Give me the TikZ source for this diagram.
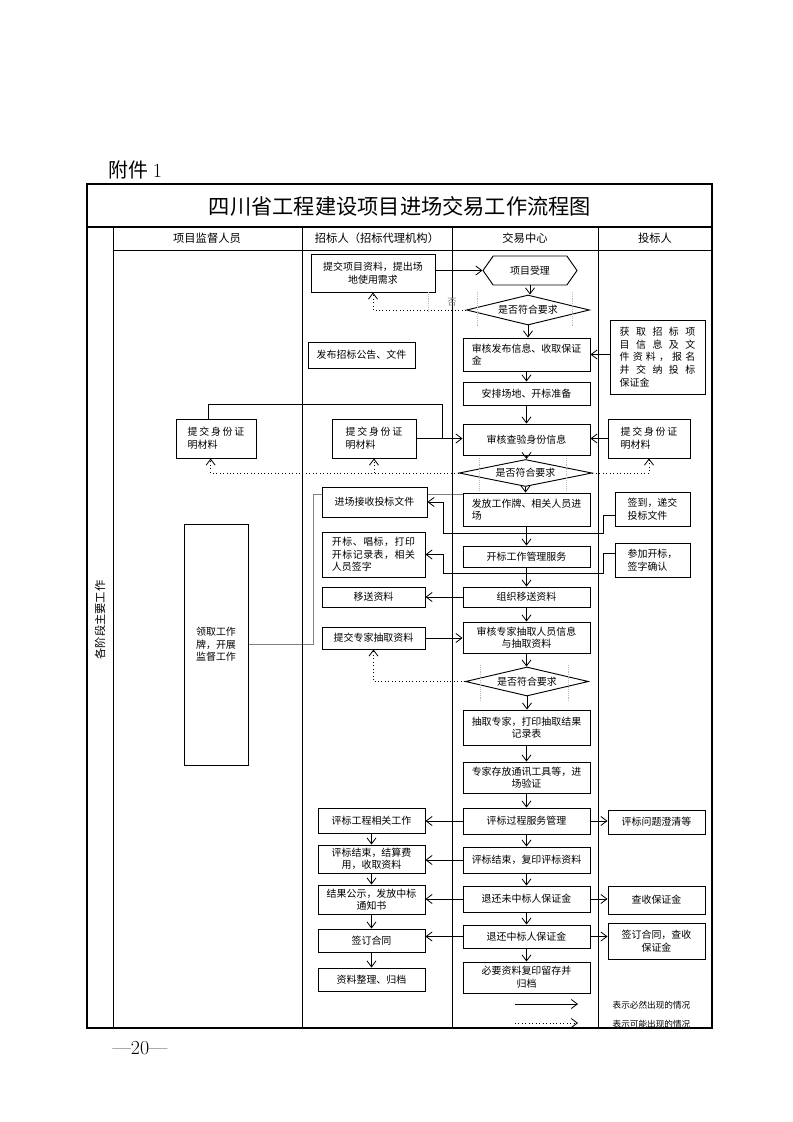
\documentclass[tikz,border=0pt]{standalone}
\usepackage{fontspec}
\usepackage{tikz}
\usetikzlibrary{arrows.meta,shapes.geometric,shapes.symbols,backgrounds}
\newfontfamily\cjk{Noto Sans CJK SC}
\newcommand{\spread}[2]{\makebox[#1][s]{#2}}

\tikzset{
  box/.style={draw, line width=0.7pt, fill=white, inner sep=1pt, align=center,
    font=\cjk\fontsize{7.5}{9.5}\selectfont},
  sz/.style 2 args={minimum width=#1*0.2648mm, minimum height=#2*0.2648mm},
  ask/.style={box, diamond, aspect=4, inner sep=0pt},
  arr/.style={line width=0.6pt, -{Straight Barb[length=1.6mm,width=2.4mm]}},
  maybe/.style={arr, dotted},
  faint/.style={gray!55, line width=0.4pt, densely dotted},
  head/.style={font=\cjk\fontsize{8.5}{10}\selectfont},
}

\begin{document}
\begin{tikzpicture}[x=0.2648mm, y=-0.2648mm]
\useasboundingbox (0,0) rectangle (793,1122);

% frame and lanes
\draw[line width=0.8pt] (87,184) rectangle (712,1028);
\draw[line width=0.8pt] (87,227) -- (712,227);
\draw (113,250) -- (712,250);
\draw (113,227) -- (113,1028);
\foreach \x in {302,452,598}
  \draw (\x,227) -- (\x,1028);

\node[anchor=west, font=\cjk\fontsize{15}{15}\selectfont] (fujian) at (104,170) {附件 {\normalfont 1}};
\node[font=\cjk\fontsize{16}{16}\selectfont] (title) at (400,206) {四川省工程建设项目进场交易工作流程图};
\node[head] (h1) at (207,238.5) {项目监督人员};
\node[head] (h2) at (377,238.5) {招标人（招标代理机构）};
\node[head] (h3) at (525,238.5) {交易中心};
\node[head] (h4) at (655,238.5) {投标人};
\node[head, rotate=90] (stage) at (100,620) {各阶段主要工作};
\node[font=\fontsize{15}{15}\selectfont] (page) at (140,1048) {---20---};

% 招标人
\node[box, sz={124}{38}] (tijiao) at (373,273) {提交项目资料，提出场\\地使用需求};
\node[box, sz={107}{26}] (fabu) at (361.5,355) {发布招标公告、文件};
\node[box, sz={84}{39}, align=left] (sfz2) at (374,438.5) {\spread{15mm}{提\hfill 交\hfill 身\hfill 份\hfill 证}\\明材料};
\node[box, sz={105}{30}] (jinchang) at (374.5,502) {进场接收投标文件};
\node[box, sz={103}{45}, align=left] (kaibiao) at (373.5,554.5) {\spread{22mm}{开\hfill 标\hfill 、\hfill 唱\hfill 标\hfill ，\hfill 打\hfill 印}\\\spread{22mm}{开\hfill 标\hfill 记\hfill 录\hfill 表\hfill ，\hfill 相\hfill 关}\\人员签字};
\node[box, sz={103}{20}] (yisong) at (373.5,597) {移送资料};
\node[box, sz={103}{22}] (zhuanjia) at (373.5,638) {提交专家抽取资料};
\node[box, sz={107}{25}] (pbgc) at (371.5,820.5) {评标工程相关工作};
\node[box, sz={107}{28}] (pbjs) at (371.5,859) {评标结束，结算费\\用，收取资料};
\node[box, sz={107}{29}] (jggs) at (371.5,899.5) {结果公示，发放中标\\通知书};
\node[box, sz={107}{23}] (qdht) at (371.5,940.5) {签订合同};
\node[box, sz={107}{23}] (zlzl) at (371.5,979.5) {资料整理、归档};

% 交易中心
\node[box, sz={94}{29}, signal, signal to=east and west, signal pointer angle=110] (shouli) at (530,270.5) {项目受理};
\node[ask, sz={123}{30}] (hefou1) at (528,310) {是否符合要求};
\node[box, sz={127}{33}, align=left] (shfb) at (526.5,354.5) {审核发布信息、收取保证\\金};
\node[box, sz={127}{23}] (apcd) at (526.5,393.5) {安排场地、开标准备};
\node[box, sz={127}{31}] (shcy) at (526.5,439.5) {审核查验身份信息};
\node[ask, sz={133}{27}] (hefou2) at (525.5,473) {是否符合要求};
\node[box, sz={127}{33}, align=left] (ffgzp) at (526.5,509.5) {发放工作牌、相关人员进\\场};
\node[box, sz={127}{21}] (kbgl) at (526.5,556.5) {开标工作管理服务};
\node[box, sz={127}{20}] (zzys) at (526.5,597) {组织移送资料};
\node[box, sz={127}{31}] (shzj) at (526.5,637.5) {审核专家抽取人员信息\\与抽取资料};
\node[ask, sz={123}{29}] (hefou3) at (527,681.5) {是否符合要求};
\node[box, sz={127}{35}] (cqzj) at (526.5,727.5) {抽取专家，打印抽取结果\\记录表};
\node[box, sz={127}{31}] (zjcf) at (526.5,777.5) {专家存放通讯工具等，进\\场验证};
\node[box, sz={127}{26}] (pbgl) at (526.5,821) {评标过程服务管理};
\node[box, sz={127}{26}] (pbfy) at (526.5,860) {评标结束，复印评标资料};
\node[box, sz={127}{26}] (thwzb) at (526.5,899) {退还未中标人保证金};
\node[box, sz={127}{23}] (thzb) at (526.5,936.5) {退还中标人保证金};
\node[box, sz={127}{31}] (bycl) at (526.5,977.5) {必要资料复印留存并\\归档};

% 投标人
\node[box, sz={95}{74}, align=left] (huoqu) at (657.5,357) {\spread{20mm}{获\hfill 取\hfill 招\hfill 标\hfill 项}\\\spread{20mm}{目\hfill 信\hfill 息\hfill 及\hfill 文}\\\spread{20mm}{件\hfill 资\hfill 料\hfill ，\hfill 报\hfill 名}\\\spread{20mm}{并\hfill 交\hfill 纳\hfill 投\hfill 标}\\保证金};
\node[box, sz={82}{39}, align=left] (sfz3) at (649,438.5) {\spread{15mm}{提\hfill 交\hfill 身\hfill 份\hfill 证}\\明材料};
\node[box, sz={75}{34}, align=left] (qiandao) at (652.5,509) {签到，递交\\投标文件};
\node[box, sz={75}{34}, align=left] (canjia) at (652.5,560) {参加开标，\\签字确认};
\node[box, sz={97}{24}] (pbwt) at (656.5,822) {评标问题澄清等};
\node[box, sz={97}{28}] (cssbz) at (656.5,900) {查收保证金};
\node[box, sz={97}{36}] (qdht2) at (656.5,941) {签订合同，查收\\保证金};

% 项目监督人员
\node[box, sz={80}{39}, align=left] (sfz1) at (216,438.5) {\spread{15mm}{提\hfill 交\hfill 身\hfill 份\hfill 证}\\明材料};
\node[box, sz={64}{241}] (lingqu) at (216,644.5) {领取工作\\牌，开展\\监督工作};

% faint marks round the checks
\foreach \x in {477,572}
  \draw[faint] (\x,292) -- (\x,327);
\foreach \x in {479,566}
  \draw[faint] (\x,458) -- (\x,490);
\foreach \x in {480,568}
  \draw[faint] (\x,665) -- (\x,702);
\draw[faint] (428,292) -- (428,312);
\node[font=\cjk\fontsize{7}{8}\selectfont, text=gray] (no1) at (452,302) {否};

% connectors
\draw[arr] (tijiao.east |- shouli) -- (shouli.west);
\draw[arr] (shouli.south) -- (shouli.south |- hefou1.north);
\draw[arr] (hefou1.south) -- (hefou1.south |- shfb.north);
\draw[maybe] (hefou1.west) -| (tijiao.south);
\draw[arr] (huoqu.west |- shfb) -- (shfb.east);
\draw[arr] (shfb) -- (apcd);
\draw[arr] (apcd) -- (shcy);
\coordinate (j1) at (442,404);
\draw[line width=0.6pt] (sfz1.110) |- (j1) -- (j1 |- sfz2.east);
\draw[arr] (sfz2.east) -- (sfz2.east -| shcy.west);
\draw[arr] (sfz3.west) -- (sfz3.west -| shcy.east);
\draw[arr] (shcy.south) -- (shcy.south |- hefou2.north);
\draw[maybe] (hefou2.west) -| (sfz1.255);
\draw[maybe] (hefou2.west -| sfz2.south) -- (sfz2.south);
\draw[maybe] (hefou2.east) -| (sfz3.south);
\draw[arr] (hefou2.south) -- (hefou2.south |- ffgzp.north);
\begin{scope}[on background layer]
\coordinate (l1) at (313,644.5);
\draw[line width=0.5pt, gray] (ffgzp.167) -| (l1) -- (lingqu.east);
\end{scope}
\coordinate (q1) at (603,533);
\coordinate (q2) at (443,533);
\draw[arr] (qiandao.190) -| (q1) -- (q2) |- (jinchang.east);
\coordinate (c1) at (603,573);
\coordinate (c2) at (443,573);
\draw[arr] (canjia.170) -| (c1) -- (c2) |- (kaibiao.east);
\draw[arr] (ffgzp) -- (kbgl);
\draw[arr] (kbgl) -- (zzys);
\draw[arr] (zzys.west) -- (yisong.east);
\draw[arr] (zzys) -- (shzj);
\draw[arr] (zhuanjia.east) -- (zhuanjia.east -| shzj.west);
\draw[arr] (shzj.south) -- (shzj.south |- hefou3.north);
\draw[maybe] (hefou3.west) -| (zhuanjia.south);
\draw[arr] (hefou3.south) -- (hefou3.south |- cqzj.north);
\draw[arr] (cqzj) -- (zjcf);
\draw[arr] (zjcf) -- (pbgl);
\draw[arr] (pbgl.west) -- (pbgl.west -| pbgc.east);
\draw[arr] (pbgl.east) -- (pbgl.east -| pbwt.west);
\draw[arr] (pbgl) -- (pbfy);
\draw[arr] (pbfy.west) -- (pbfy.west -| pbjs.east);
\draw[arr] (pbfy) -- (thwzb);
\draw[arr] (thwzb.west) -- (thwzb.west -| jggs.east);
\draw[arr] (thwzb.east) -- (thwzb.east -| cssbz.west);
\draw[arr] (thwzb) -- (thzb);
\draw[arr] (thzb.west) -- (thzb.west -| qdht.east);
\draw[arr] (thzb.east) -- (thzb.east -| qdht2.west);
\draw[arr] (thzb) -- (bycl);
\draw[arr] (pbgc) -- (pbjs);
\draw[arr] (pbjs) -- (jggs);
\draw[arr] (jggs) -- (qdht);
\draw[arr] (qdht) -- (zlzl);

% legend
\coordinate (lg1) at (515,1004);
\coordinate (lg2) at (578,1004);
\coordinate (lg3) at (515,1023);
\coordinate (lg4) at (578,1023);
\draw[arr] (lg1) -- (lg2);
\draw[maybe] (lg3) -- (lg4);
\node[anchor=west, font=\cjk\fontsize{6.5}{8}\selectfont] (lgt1) at (608,1005) {表示必然出现的情况};
\node[anchor=west, font=\cjk\fontsize{6.5}{8}\selectfont] (lgt2) at (608,1024) {表示可能出现的情况};
\end{tikzpicture}
\end{document}
